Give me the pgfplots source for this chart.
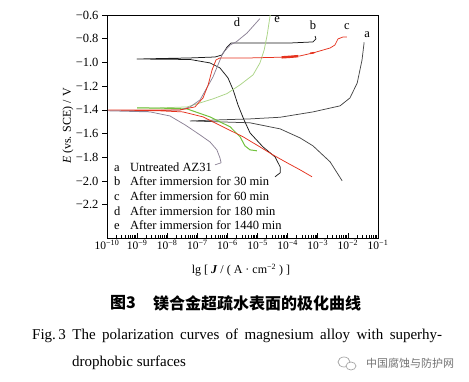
\documentclass[border=0pt]{standalone}
\usepackage{pgfplots}
\pgfplotsset{compat=1.18}
\usepackage{fontspec}
\setmainfont{Liberation Serif}
\newfontfamily\cjk{Noto Sans CJK SC}
\definecolor{ca}{HTML}{474747}
\definecolor{cb}{HTML}{1A1A1A}
\definecolor{cc}{HTML}{E5321E}
\definecolor{cd}{HTML}{8C8296}
\definecolor{ce}{HTML}{ABD486}
\definecolor{ce2}{HTML}{72C23E}
\begin{document}
\begin{tikzpicture}
\useasboundingbox (0,0) rectangle (469pt,381pt);
\begin{axis}[
  at={(107pt,143pt)}, anchor=south west,
  scale only axis, width=271pt, height=223pt,
  xmin=-10, xmax=-1, ymin=-2.48, ymax=-0.6,
  xtick={-10,-9,-8,-7,-6,-5,-4,-3,-2,-1},
  xticklabels={10\textsuperscript{−10},10\textsuperscript{−9},10\textsuperscript{−8},10\textsuperscript{−7},10\textsuperscript{−6},10\textsuperscript{−5},10\textsuperscript{−4},10\textsuperscript{−3},10\textsuperscript{−2},10\textsuperscript{−1}},
  minor xtick={-9.699,-9.523,-9.398,-9.301,-9.222,-9.155,-9.097,-9.046,
   -8.699,-8.523,-8.398,-8.301,-8.222,-8.155,-8.097,-8.046,
   -7.699,-7.523,-7.398,-7.301,-7.222,-7.155,-7.097,-7.046,
   -6.699,-6.523,-6.398,-6.301,-6.222,-6.155,-6.097,-6.046,
   -5.699,-5.523,-5.398,-5.301,-5.222,-5.155,-5.097,-5.046,
   -4.699,-4.523,-4.398,-4.301,-4.222,-4.155,-4.097,-4.046,
   -3.699,-3.523,-3.398,-3.301,-3.222,-3.155,-3.097,-3.046,
   -2.699,-2.523,-2.398,-2.301,-2.222,-2.155,-2.097,-2.046,
   -1.699,-1.523,-1.398,-1.301,-1.222,-1.155,-1.097,-1.046},
  ytick={-2.2,-2,-1.8,-1.6,-1.4,-1.2,-1,-0.8,-0.6},
  yticklabels={−2.2,−2.0,−1.8,−1.6,−1.4,−1.2,−1.0,−0.8,−0.6},
  xtick pos=left, ytick pos=left,
  xtick align=inside, ytick align=outside,
  major tick length=5pt, minor tick length=3pt,
  tick style={black, line width=0.6pt},
  axis line style={line width=0.9pt},
  x tick label style={font=\fontsize{11.5}{13}\selectfont, inner sep=2pt},
  y tick label style={font=\fontsize{12.5}{14}\selectfont},
  clip=false,
  every axis plot/.append style={line join=round, line width=0.75pt},
]
% a Untreated AZ31
\addplot[ca] coordinates {(-1.46,-0.830)(-1.53,-0.979)(-1.69,-1.173)(-1.93,-1.299)(-2.26,-1.366)(-3.16,-1.417)(-4.25,-1.462)(-5.25,-1.476)(-6.25,-1.484)(-7.24,-1.493)(-6.25,-1.501)(-5.25,-1.509)(-4.25,-1.560)(-3.59,-1.636)(-3.16,-1.703)(-2.59,-1.838)(-2.19,-1.998)};
% b 30 min
\addplot[cb] coordinates {(-3.09,-0.777)(-3.06,-0.802)(-3.16,-0.827)(-3.92,-0.836)(-4.92,-0.836)(-5.88,-0.836)(-6.01,-0.869)(-6.18,-0.937)(-6.41,-0.954)(-7.24,-0.962)(-9.00,-0.971)(-7.24,-0.975)(-6.58,-1.004)(-6.25,-1.046)(-5.98,-1.131)(-5.81,-1.232)(-5.65,-1.358)(-5.45,-1.484)(-5.25,-1.594)(-4.82,-1.712)(-4.42,-1.796)(-4.25,-1.880)(-4.25,-1.931)(-4.42,-1.964)};
% e 1440 min
\addplot[ce] coordinates {(-4.58,-0.600)(-4.68,-0.768)(-4.78,-0.895)(-4.92,-1.004)(-5.15,-1.105)(-5.58,-1.189)(-6.01,-1.262)(-6.48,-1.307)(-6.91,-1.341)(-7.34,-1.375)(-8.24,-1.383)(-9.00,-1.383)};
\addplot[ce2, line width=1pt] coordinates {(-9.00,-1.383)(-8.24,-1.385)(-7.34,-1.392)(-6.58,-1.459)(-5.91,-1.543)(-5.58,-1.627)(-5.42,-1.703)(-5.25,-1.737)(-5.02,-1.745)};
% d 180 min
\addplot[cd] coordinates {(-4.92,-0.630)(-5.35,-0.752)(-5.70,-0.825)(-5.91,-0.853)(-6.15,-0.920)(-6.48,-1.122)(-6.91,-1.316)(-7.24,-1.375)(-7.57,-1.400)(-8.50,-1.406)(-9.95,-1.408)(-8.57,-1.417)(-7.91,-1.451)(-7.41,-1.526)(-6.91,-1.611)(-6.58,-1.670)(-6.35,-1.737)(-6.25,-1.804)(-6.21,-1.846)(-6.41,-1.863)};
% c 60 min
\addplot[cc] coordinates {(-3.19,-1.964)(-3.59,-1.905)(-4.02,-1.846)(-4.49,-1.779)(-4.92,-1.712)(-5.48,-1.627)(-6.15,-1.543)(-6.81,-1.459)(-7.48,-1.417)(-8.24,-1.408)(-9.95,-1.400)(-7.57,-1.400)(-7.08,-1.375)(-6.81,-1.299)(-6.64,-1.189)(-6.51,-1.063)(-6.38,-0.979)(-6.25,-0.962)(-5.25,-0.962)(-4.25,-0.956)(-3.59,-0.945)(-3.16,-0.920)(-2.59,-0.878)(-2.43,-0.853)(-2.33,-0.802)(-2.16,-0.785)(-2.03,-0.785)};
\addplot[cc, line width=2.4pt] coordinates {(-4.20,-0.957)(-3.95,-0.953)(-3.65,-0.947)};
\addplot[cc, line width=1.6pt] coordinates {(-3.25,-0.923)(-3.12,-0.918)};
% curve labels
\begin{scope}[every node/.style={font=\fontsize{12.5}{14}\selectfont, inner sep=0pt}]
\node at (axis cs:-5.68,-0.659) {d};
\node at (axis cs:-4.35,-0.642) {e};
\node at (axis cs:-3.16,-0.684) {b};
\node at (axis cs:-2.03,-0.701) {c};
\node at (axis cs:-1.36,-0.768) {a};
\end{scope}
\end{axis}
% legend text
\begin{scope}[every node/.style={font=\fontsize{12.5}{14}\selectfont, inner sep=0pt, anchor=base west}]
\node at (114pt,210pt) {a};
\node at (130pt,210pt) {Untreated AZ31};
\node at (114pt,195.3pt) {b};
\node at (130pt,195.3pt) {After immersion for 30 min};
\node at (114pt,180.6pt) {c};
\node at (130pt,180.6pt) {After immersion for 60 min};
\node at (114pt,165.9pt) {d};
\node at (130pt,165.9pt) {After immersion for 180 min};
\node at (114pt,151.2pt) {e};
\node at (130pt,151.2pt) {After immersion for 1440 min};
\end{scope}
% axis labels
\node[font=\fontsize{12}{14}\selectfont, rotate=90] at (68pt,255pt) {\textit{E} (vs. SCE) / V};
\node[font=\fontsize{12}{14}\selectfont] at (241pt,111pt) {lg [ \textbf{\textit{J}} / ( A · cm\textsuperscript{−2} ) ]};
% captions
\node[font=\cjk\bfseries\fontsize{16}{18}\selectfont, anchor=west, inner sep=0pt] at (110pt,78pt) {图3};
\node[font=\cjk\bfseries\fontsize{16}{18}\selectfont, anchor=west, inner sep=0pt] at (153pt,78pt) {镁合金超疏水表面的极化曲线};
\node[font=\fontsize{15}{17}\selectfont, anchor=west, inner sep=0pt] at (32pt,45pt) {\makebox[410pt][s]{Fig.\,3 The polarization curves of magnesium alloy with superhy-}};
\node[font=\fontsize{15}{17}\selectfont, anchor=west, inner sep=0pt] at (72pt,18pt) {drophobic surfaces};
% watermark
\draw[gray!70, line width=0.7pt] (344pt,19pt) ellipse (6pt and 5pt);
\draw[gray!70, line width=0.7pt, fill=white] (351pt,15pt) ellipse (5pt and 4pt);
\node[font=\cjk\fontsize{11}{13}\selectfont, text=gray!90!black, anchor=west, inner sep=0pt] at (366pt,18pt) {中国腐蚀与防护网};
\end{tikzpicture}
\end{document}
